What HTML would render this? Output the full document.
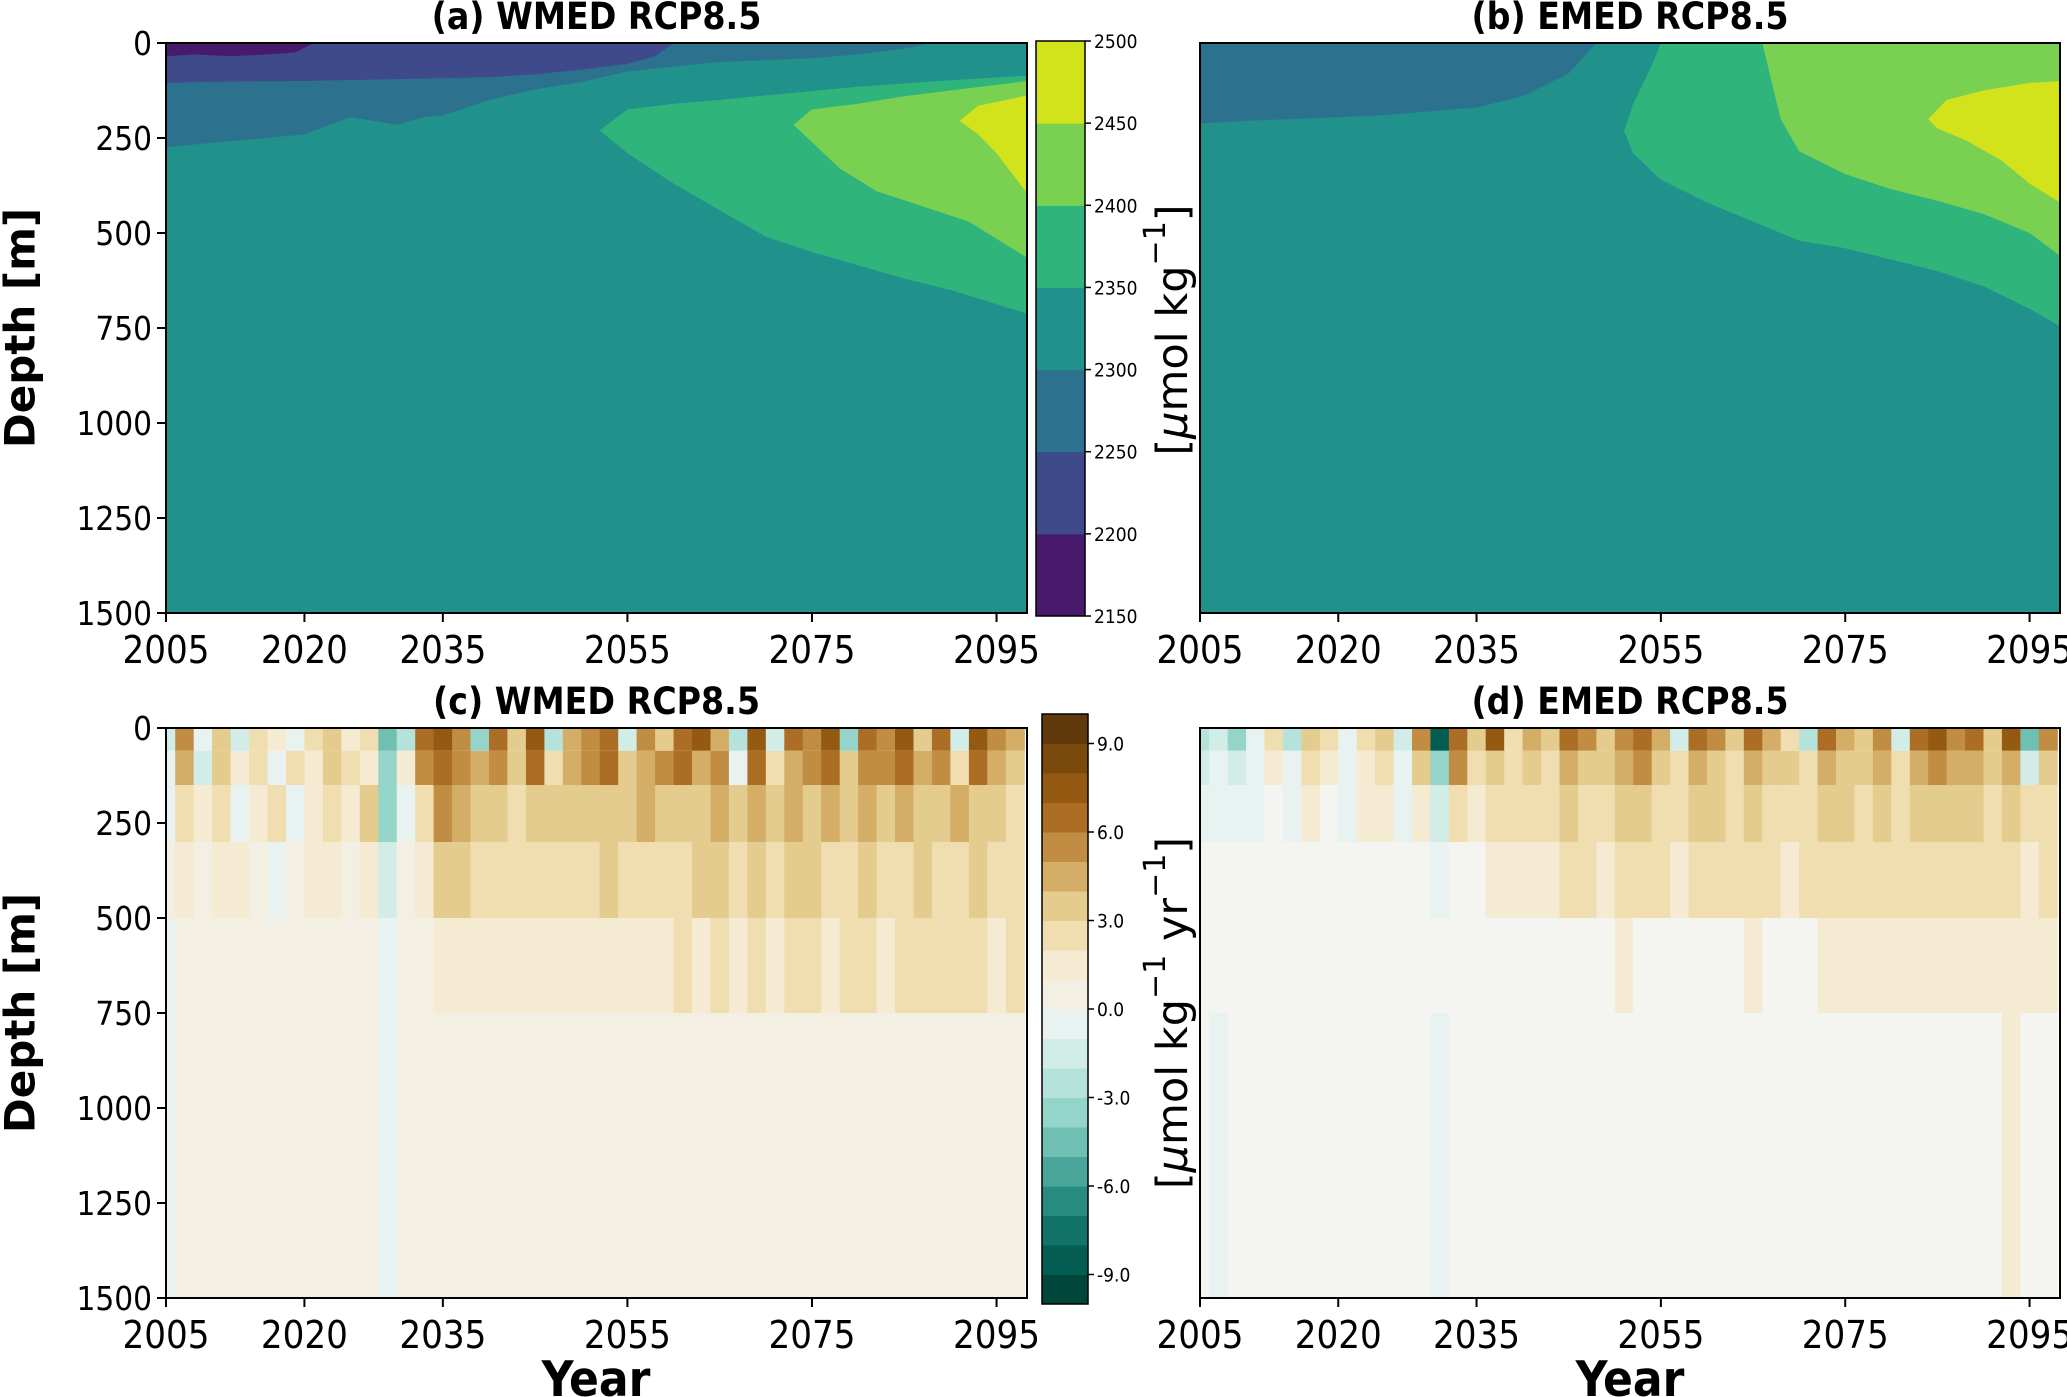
<!DOCTYPE html>
<html><head><meta charset="utf-8">
<style>
html,body{margin:0;padding:0;background:#fff;}
svg{display:block;}
text{font-family:"DejaVu Sans Condensed","DejaVu Sans","Liberation Sans",sans-serif;fill:#000;}
.tick{font-size:33px;}
.xtick{font-size:38px;}
.ttl{font-size:37px;font-weight:bold;}
.cbt{font-size:19px;}
</style></head>
<body>
<svg id="fig" width="2067" height="1397" viewBox="0 0 2067 1397" xmlns="http://www.w3.org/2000/svg"></svg>
<script>
// ---------- data ----------
const yearTicks = [2005, 2020, 2035, 2055, 2075, 2095];
const depthTicks = [0, 250, 500, 750, 1000, 1250, 1500];
const dicLevels = [2150, 2200, 2250, 2300, 2350, 2400, 2450, 2500];
const dicColors = ['#481a6c', '#3e4a89', '#2c728e', '#21918c', '#2fb47c', '#7ad151', '#d2e21b'];
const rateTickLabels = [9.0, 6.0, 3.0, 0.0, -3.0, -6.0, -9.0];

// panel a contour regions (year, depth)
const a2250Yrs = [2005, 2005, 2088, 2085, 2080, 2075, 2070, 2065, 2060, 2055, 2050, 2045, 2040, 2037, 2035, 2033, 2030, 2025, 2020, 2015, 2010];
const a2250Dep = [275, 0, 0, 15, 30, 40, 45, 50, 62, 75, 103, 122, 150, 175, 190, 195, 215, 195, 240, 252, 262];
const a2200Yrs = [2005, 2005, 2060, 2058, 2055, 2050, 2045, 2040, 2030, 2020, 2010];
const a2200Dep = [105, 0, 0, 35, 55, 70, 82, 90, 95, 100, 102];
const a2150Yrs = [2005, 2005, 2021, 2019, 2016, 2012, 2008];
const a2150Dep = [35, 0, 0, 25, 30, 35, 30];
const a2350Yrs = [2052, 2055, 2060, 2065, 2070, 2080, 2090, 2098.3, 2098.3, 2090, 2085, 2080, 2075, 2070, 2065, 2060, 2055];
const a2350Dep = [230, 175, 160, 150, 138, 115, 98, 86, 712, 650, 620, 585, 550, 510, 440, 370, 290];
const a2400Yrs = [2073, 2075, 2080, 2085, 2090, 2098.3, 2098.3, 2092, 2087, 2082, 2078];
const a2400Dep = [215, 175, 160, 140, 125, 100, 565, 470, 430, 390, 330];
const a2450Yrs = [2091, 2093, 2096, 2098.3, 2098.3, 2095, 2093];
const a2450Dep = [205, 165, 150, 138, 395, 290, 240];

// panel b contour regions
const b2250Yrs = [2005, 2005, 2048, 2045, 2040, 2035, 2030, 2025, 2020, 2015, 2010];
const b2250Dep = [212, 0, 0, 80, 140, 170, 180, 190, 195, 200, 205];
const b2350Yrs = [2051, 2052, 2054, 2055, 2098.3, 2098.3, 2095, 2090, 2085, 2080, 2075, 2070, 2065, 2060, 2055, 2052];
const b2350Dep = [232, 160, 60, 0, 0, 745, 700, 640, 600, 570, 540, 520, 470, 420, 360, 290];
const b2400Yrs = [2066, 2098.3, 2098.3, 2095, 2090, 2085, 2080, 2075, 2070, 2068, 2067];
const b2400Dep = [0, 0, 560, 500, 450, 415, 385, 345, 285, 200, 100];
const b2450Yrs = [2084, 2086, 2090, 2095, 2098.3, 2098.3, 2095, 2092, 2088, 2085];
const b2450Dep = [200, 150, 125, 105, 100, 420, 370, 310, 255, 225];

// panels c,d: rate values on 2-year columns and depth bins
const rateYears = [2005,2007,2009,2011,2013,2015,2017,2019,2021,2023,2025,2027,2029,2031,2033,2035,2037,2039,2041,2043,2045,2047,2049,2051,2053,2055,2057,2059,2061,2063,2065,2067,2069,2071,2073,2075,2077,2079,2081,2083,2085,2087,2089,2091,2093,2095,2097];
const depthBins = [0, 60, 150, 300, 500, 750, 1500];
const cRow0 = [-2,5,-1,3,-2,2,1,-1,2,3,1,2,-5,-3,6,7,5,-4,6,3,7,-3,4,5,6,-2,5,3,6,7,4,-3,7,-2,6,5,7,-4,6,5,7,3,6,-2,7,5,4];
const cRow1 = [-1,4,-2,3,1,2,-1,2,1,3,2,1,-4,1,5,6,5,4,5,3,6,2,4,5,6,3,4,5,6,4,5,-1,6,2,4,5,6,3,5,5,6,4,5,2,6,4,3];
const cRow2 = [-0.5,2,1,2,-1,1,2,-0.5,1,2,1,3,-4,-1,2,5,4,3,3,2,3,3,3,3,3,3,4,3,3,3,4,3,4,3,4,3,4,3,4,3,4,3,3,4,3,3,2];
const cRow3 = [0.5,1,0.5,1,1,0.5,-0.5,0.5,1,1,0.5,1,-2,0.5,1,3,3,2,2,2,2,2,2,2,3,2,2,2,2,3,3,2,3,2,3,3,2,2,3,2,2,3,2,2,3,2,2];
const cRow4 = [-0.5,0.5,0.5,0.5,0.5,0.5,0.5,0.5,0.5,0.5,0.5,0.5,-0.5,0.5,0.5,1.5,1.5,1.5,1.5,1.5,1.5,1.5,1.5,1.5,1.5,1.5,1.5,1.5,2,1.5,2,1.5,2,1.5,2,2,1.5,2,2,1.5,2,2,2,2,2,1.5,2];
const cRow5 = [-0.5,0.5,0.5,0.5,0.5,0.5,0.5,0.5,0.5,0.5,0.5,0.5,-0.5,0.5,0.5,0.5,0.5,0.5,0.5,0.5,0.5,0.5,0.5,0.5,0.5,0.5,0.5,0.5,0.5,0.5,0.5,0.5,0.5,0.5,0.5,0.5,0.5,0.5,0.5,0.5,0.5,0.5,0.5,0.5,0.5,0.5,0.5];
const dRow0 = [-3,-2,-4,-1,2,-3,3,2,-1,2,3,-2,5,-9,6,3,7,2,4,3,6,5,3,5,6,4,-2,6,5,3,6,4,2,-3,6,4,3,5,-2,6,7,5,6,3,7,-5,5];
const dRow1 = [-2,-1,-2,-1,1,-1,2,1,-1,1,2,-1,3,-4,5,2,3,2,3,2,4,3,3,4,5,3,2,4,3,2,4,3,3,2,4,3,3,4,2,4,5,4,4,3,4,-2,3];
const dRow2 = [-1,-0.5,-1,-0.5,0.5,-0.5,1,0.5,-0.5,1,1,-1,1,-2,2,1,2,2,2,2,3,2,2,3,3,2,2,3,3,2,3,2,2,2,3,3,2,3,2,3,3,3,3,2,3,2,2];
const dRow3 = [0,0,0,0,0,0,0,0,0,0,0,0,0,-1,0,0,1,1,1,1,2,2,1,2,2,2,1,2,2,2,2,2,1,2,2,2,2,2,2,2,2,2,2,2,2,1,2];
const dRow4 = [0,0,0,0,0,0,0,0,0,0,0,0,0,0,0,0,0,0,0,0,0,0,0,1,0,0,0,0,0,0,1,0,0,0,1,1,1,1,1,1,1,1,1,1,1,1,1];
const dRow5 = [0,-0.5,0,0,0,0,0,0,0,0,0,0,0,-0.5,0,0,0,0,0,0,0,0,0,0,0,0,0,0,0,0,0,0,0,0,0,0,0,0,0,0,0,0,0,0,1,0,0];

// ---------- rendering ----------
const NS = 'http://www.w3.org/2000/svg';
const svg = document.getElementById('fig');
const rateColors = ['#01463b','#045d53','#12736b','#298c83','#4aa69a','#6fbfb2','#94d4c9','#b6e2dc','#d2ece8','#e8f2f0','#f3efe2','#f5ead2','#f0deb0','#e4cb8e','#d4ad66','#c18d42','#ac6e24','#955a12','#7a4a0c','#603a0a'];
const X0 = 2005, X1 = 2098.3, D1 = 1500;
function mk(tag, attrs, parent) {
  const e = document.createElementNS(NS, tag);
  for (const k in attrs) e.setAttribute(k, attrs[k]);
  (parent || svg).appendChild(e);
  return e;
}
function makeAxes(px0, px1, py0, py1) {
  return {
    x: y => px0 + (y - X0) / (X1 - X0) * (px1 - px0),
    y: d => py0 + d / D1 * (py1 - py0),
    px0, px1, py0, py1
  };
}
function rateColor(v, zeroColor) {
  let i = Math.floor(v) + 10;
  i = Math.max(0, Math.min(19, i));
  if (i === 10 && zeroColor) return zeroColor;
  return rateColors[i];
}
function drawPoly(g, ax, yrs, deps, color, name) {
  const pts = yrs.map((y, i) => ax.x(y).toFixed(1) + ',' + ax.y(deps[i]).toFixed(1)).join(' ');
  const p = mk('polygon', {points: pts, fill: color}, g);
  
  
}
function drawAxesFrame(ax, name, title, showYTicks) {
  const g = mk('g', {});
  
  
  mk('rect', {x: ax.px0, y: ax.py0, width: ax.px1 - ax.px0, height: ax.py1 - ax.py0, fill: 'none', stroke: '#000', 'stroke-width': 2}, g);
  yearTicks.forEach(t => {
    const x = ax.x(t);
    mk('line', {x1: x, x2: x, y1: ax.py1, y2: ax.py1 + 9, stroke: '#000', 'stroke-width': 2}, g);
    const tx = mk('text', {x: x, y: ax.py1 + 50, 'text-anchor': 'middle', class: 'xtick'}, g);
    tx.textContent = t;
    
    
  });
  depthTicks.forEach(t => {
    const y = ax.y(t);
    if (showYTicks) {
      mk('line', {x1: ax.px0, x2: ax.px0 - 9, y1: y, y2: y, stroke: '#000', 'stroke-width': 2}, g);
      const tx = mk('text', {x: ax.px0 - 14, y: y + 12, 'text-anchor': 'end', class: 'tick'}, g);
      tx.textContent = t;
      
      
    }
  });
  const tt = mk('text', {x: (ax.px0 + ax.px1) / 2, y: ax.py0 - 14, 'text-anchor': 'middle', class: 'ttl'}, g);
  tt.textContent = title;
  
  
}
function drawDicPanel(ax, name, title, layers, showYTicks) {
  const g = mk('g', {});
  
  
  mk('rect', {x: ax.px0, y: ax.py0, width: ax.px1 - ax.px0, height: ax.py1 - ax.py0, fill: dicColors[3]}, g);
  layers.forEach(l => drawPoly(g, ax, l[0], l[1], dicColors[l[2]], name + '-band-' + dicLevels[l[2]]));
  drawAxesFrame(ax, name, title, showYTicks);
}
function drawRatePanel(ax, name, title, rows, zeroColor, showYTicks) {
  const g = mk('g', {});
  
  
  rows.forEach((row, r) => {
    row.forEach((v, i) => {
      const x0 = Math.max(ax.px0, ax.x(rateYears[i] - 1));
      const x1 = Math.min(ax.px1, ax.x(rateYears[i] + 1));
      const y0 = ax.y(depthBins[r]), y1 = ax.y(depthBins[r + 1]);
      const c = mk('rect', {x: x0.toFixed(1), y: y0.toFixed(1), width: (x1 - x0 + 0.6).toFixed(1), height: (y1 - y0).toFixed(1), fill: rateColor(v, zeroColor)}, g);
      
      
    });
  });
  drawAxesFrame(ax, name, title, showYTicks);
}

const axA = makeAxes(166, 1027, 43, 613);
const axB = makeAxes(1200, 2060, 43, 613);
const axC = makeAxes(166, 1027, 728, 1298);
const axD = makeAxes(1200, 2060, 728, 1298);

drawDicPanel(axA, 'panel-a', '(a) WMED RCP8.5', [
  [a2250Yrs, a2250Dep, 2], [a2200Yrs, a2200Dep, 1], [a2150Yrs, a2150Dep, 0],
  [a2350Yrs, a2350Dep, 4], [a2400Yrs, a2400Dep, 5], [a2450Yrs, a2450Dep, 6]], true);
drawDicPanel(axB, 'panel-b', '(b) EMED RCP8.5', [
  [b2250Yrs, b2250Dep, 2], [b2350Yrs, b2350Dep, 4], [b2400Yrs, b2400Dep, 5], [b2450Yrs, b2450Dep, 6]], false);
drawRatePanel(axC, 'panel-c', '(c) WMED RCP8.5', [cRow0, cRow1, cRow2, cRow3, cRow4, cRow5], null, true);
drawRatePanel(axD, 'panel-d', '(d) EMED RCP8.5', [dRow0, dRow1, dRow2, dRow3, dRow4, dRow5], '#f4f4f1', false);

// colorbar top (DIC)
(function () {
  const g = mk('g', {});
  
  
  const x0 = 1036, x1 = 1085, y0 = 41, y1 = 616;
  const n = dicColors.length;
  const vy = v => y1 - (v - dicLevels[0]) / (dicLevels[n] - dicLevels[0]) * (y1 - y0);
  dicColors.forEach((c, i) => mk('rect', {x: x0, y: vy(dicLevels[i + 1]), width: x1 - x0, height: vy(dicLevels[i]) - vy(dicLevels[i + 1]) + 0.5, fill: c}, g));
  mk('rect', {x: x0, y: y0, width: x1 - x0, height: y1 - y0, fill: 'none', stroke: '#000', 'stroke-width': 1.5}, g);
  dicLevels.forEach(v => {
    const y = vy(v);
    mk('line', {x1: x1, x2: x1 + 6, y1: y, y2: y, stroke: '#000', 'stroke-width': 1.5}, g);
    const t = mk('text', {x: x1 + 9, y: y + 7, class: 'cbt'}, g);
    t.textContent = v;
    
    
  });
})();
// colorbar bottom (rate)
(function () {
  const g = mk('g', {});
  
  
  const x0 = 1042, x1 = 1088, y0 = 714, y1 = 1304;
  const vy = v => y1 - (v + 10) / 20 * (y1 - y0);
  rateColors.forEach((c, i) => mk('rect', {x: x0, y: vy(i - 9), width: x1 - x0, height: vy(i - 10) - vy(i - 9) + 0.5, fill: c}, g));
  mk('rect', {x: x0, y: y0, width: x1 - x0, height: y1 - y0, fill: 'none', stroke: '#000', 'stroke-width': 1.5}, g);
  rateTickLabels.forEach(v => {
    const y = vy(v);
    mk('line', {x1: x1, x2: x1 + 6, y1: y, y2: y, stroke: '#000', 'stroke-width': 1.5}, g);
    const t = mk('text', {x: x1 + 9, y: y + 7, class: 'cbt'}, g);
    t.textContent = v.toFixed(1);
    
    
  });
})();
</script>
<div style="position:absolute;left:0;top:0;width:2067px;height:1397px;pointer-events:none;">
<svg width="2067" height="1397" style="position:absolute;left:0;top:0">
<text x="20" y="328" transform="rotate(-90 20 328)" text-anchor="middle" dominant-baseline="central" style="font-family:'DejaVu Sans','Liberation Sans',sans-serif;font-weight:bold;font-size:42px">Depth [m]</text>
<text x="20" y="1013" transform="rotate(-90 20 1013)" text-anchor="middle" dominant-baseline="central" style="font-family:'DejaVu Sans','Liberation Sans',sans-serif;font-weight:bold;font-size:42px">Depth [m]</text>
<text x="1173" y="330" transform="rotate(-90 1173 330)" text-anchor="middle" dominant-baseline="central" style="font-family:'DejaVu Sans','Liberation Sans',sans-serif;font-size:43px">[<tspan font-style="italic">μ</tspan>mol kg<tspan baseline-shift="super" font-size="30">−1</tspan>]</text>
<text x="1173" y="1013" transform="rotate(-90 1173 1013)" text-anchor="middle" dominant-baseline="central" style="font-family:'DejaVu Sans','Liberation Sans',sans-serif;font-size:43px">[<tspan font-style="italic">μ</tspan>mol kg<tspan baseline-shift="super" font-size="30">−1</tspan> yr<tspan baseline-shift="super" font-size="30">−1</tspan>]</text>
<text x="596" y="1396" text-anchor="middle" style="font-family:'DejaVu Sans Condensed','DejaVu Sans',sans-serif;font-weight:bold;font-size:49px">Year</text>
<text x="1630" y="1396" text-anchor="middle" style="font-family:'DejaVu Sans Condensed','DejaVu Sans',sans-serif;font-weight:bold;font-size:49px">Year</text>
</svg>
</div>
</body></html>
